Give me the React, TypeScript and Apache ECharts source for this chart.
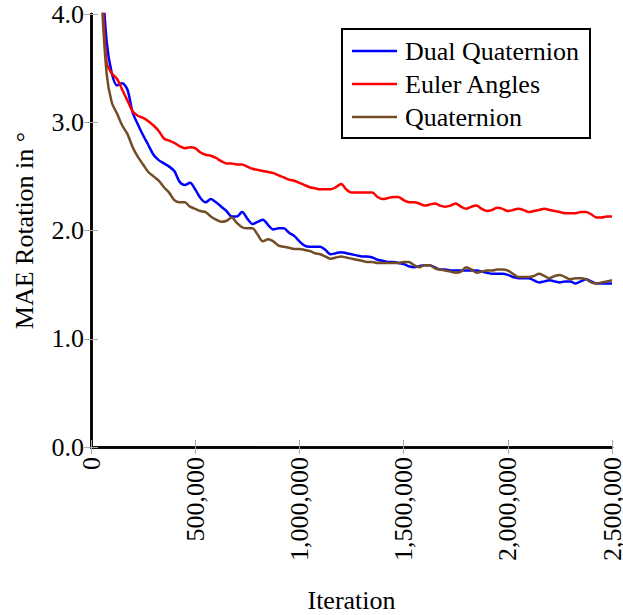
import React, { useEffect, useRef } from "react";
import * as echarts from "echarts";

const iterationStep = 25000;
const iterations: number[] = Array.from({ length: 100 }, (_, i) => (i + 1) * iterationStep);

const seriesNames = ["Dual Quaternion", "Euler Angles", "Quaternion"];

const dualQuaternion = [
  6.0, 4.5, 3.75, 3.45, 3.34, 3.36, 3.3, 3.09, 2.98, 2.88,
  2.79, 2.7, 2.65, 2.62, 2.59, 2.55, 2.45, 2.42, 2.44, 2.38,
  2.3, 2.26, 2.29, 2.26, 2.22, 2.18, 2.13, 2.13, 2.17, 2.11,
  2.06, 2.08, 2.1, 2.05, 2.01, 2.02, 2.02, 1.98, 1.95, 1.9,
  1.86, 1.85, 1.85, 1.85, 1.82, 1.78, 1.79, 1.8, 1.79, 1.78,
  1.77, 1.76, 1.76, 1.75, 1.73, 1.72, 1.71, 1.71, 1.7, 1.69,
  1.67, 1.66, 1.67, 1.68, 1.68, 1.66, 1.64, 1.64, 1.63, 1.63,
  1.63, 1.63, 1.63, 1.63, 1.62, 1.61, 1.6, 1.6, 1.6, 1.59,
  1.57, 1.56, 1.56, 1.56, 1.54, 1.52, 1.53, 1.54, 1.53, 1.52,
  1.53, 1.53, 1.51, 1.53, 1.55, 1.53, 1.51, 1.51, 1.51, 1.51,
];

const eulerAngles = [
  6.0, 4.4, 3.55, 3.45, 3.4, 3.3, 3.2, 3.1, 3.06, 3.04,
  3.01, 2.97, 2.92, 2.85, 2.83, 2.81, 2.78, 2.76, 2.77, 2.76,
  2.72, 2.7, 2.69, 2.67, 2.64, 2.62, 2.62, 2.61, 2.61, 2.59,
  2.57, 2.56, 2.55, 2.54, 2.53, 2.51, 2.49, 2.47, 2.46, 2.44,
  2.42, 2.4, 2.39, 2.38, 2.38, 2.38, 2.4, 2.43, 2.38, 2.35,
  2.35, 2.35, 2.35, 2.35, 2.31, 2.29, 2.3, 2.31, 2.31, 2.28,
  2.26, 2.26, 2.25, 2.23, 2.24, 2.25, 2.23, 2.22, 2.23, 2.25,
  2.22, 2.2, 2.22, 2.23, 2.2, 2.18, 2.19, 2.21, 2.2, 2.18,
  2.19, 2.2, 2.19, 2.17, 2.18, 2.19, 2.2, 2.19, 2.18, 2.17,
  2.16, 2.16, 2.16, 2.17, 2.17, 2.15, 2.12, 2.12, 2.13, 2.13,
];

const quaternion = [
  5.5, 4.2, 3.45, 3.18, 3.08, 2.97, 2.89, 2.77, 2.68, 2.61,
  2.54, 2.5, 2.46, 2.4, 2.35, 2.28, 2.26, 2.26, 2.22, 2.2,
  2.18, 2.17, 2.13, 2.1, 2.08, 2.09, 2.12, 2.07, 2.03, 2.02,
  2.02, 1.96, 1.9, 1.92, 1.9, 1.86, 1.85, 1.84, 1.83, 1.83,
  1.82, 1.81, 1.79, 1.78, 1.76, 1.74, 1.75, 1.76, 1.75, 1.74,
  1.73, 1.72, 1.71, 1.71, 1.7, 1.7, 1.7, 1.7, 1.7, 1.71,
  1.71, 1.68, 1.66, 1.68, 1.68, 1.65, 1.64, 1.63, 1.62, 1.61,
  1.62, 1.66, 1.64, 1.61, 1.62, 1.63, 1.63, 1.64, 1.64, 1.63,
  1.6, 1.57, 1.57, 1.57, 1.58, 1.6, 1.58, 1.56, 1.58, 1.59,
  1.57, 1.55, 1.56, 1.56, 1.55, 1.52, 1.51, 1.52, 1.53, 1.54,
];

const seriesValues = [dualQuaternion, eulerAngles, quaternion];
const seriesColors = ["#0000ff", "#ff0000", "#734d26"];

const FONT = "'Liberation Serif', 'Times New Roman', serif";
const FS = 26;

export default function App() {
  const ref = useRef<HTMLDivElement>(null);
  useEffect(() => {
    if (!ref.current) return;
    const chart = echarts.init(ref.current, null, { renderer: "svg" });
    const tickStyle = { show: true, inside: true, length: 7, lineStyle: { color: "#aaaaaa", width: 1 } };
    const axisLine = { show: true, lineStyle: { color: "#000", width: 2.5 } };
    chart.setOption({
      animation: false,
      backgroundColor: "#fff",
      textStyle: { fontFamily: FONT },
      grid: {
        left: 91,
        right: 11,
        top: 14,
        bottom: 168,
        containLabel: false,
        outerBoundsMode: "none",
      },
      legend: {
        data: seriesNames.map((name) => ({ name, icon: "rect" })),
        orient: "vertical",
        left: 342,
        top: 29,
        padding: [9, 11, 8, 10],
        itemWidth: 45,
        itemHeight: 2.5,
        itemGap: 7,
        borderColor: "#000",
        borderWidth: 2,
        backgroundColor: "#fff",
        textStyle: { fontFamily: FONT, fontSize: FS, color: "#000", lineHeight: 26, padding: [0, 0, 0, 3] },
      },
      xAxis: [
        {
          type: "value",
          min: 0,
          max: 2500000,
          interval: 500000,
          position: "bottom",
          name: "Iteration",
          nameLocation: "middle",
          nameGap: 140,
          nameTextStyle: { fontFamily: FONT, fontSize: FS, color: "#000", verticalAlign: "top" },
          axisLine,
          axisTick: tickStyle,
          splitLine: { show: false },
          axisLabel: {
            rotate: 90,
            margin: 10,
            fontFamily: FONT,
            fontSize: FS,
            lineHeight: 20,
            color: "#000",
            formatter: (v: number) => v.toLocaleString("en-US"),
          },
        },
        {
          type: "value",
          min: 0,
          max: 2500000,
          interval: 500000,
          position: "top",
          axisLine,
          axisTick: tickStyle,
          splitLine: { show: false },
          axisLabel: { show: false },
        },
      ],
      yAxis: [
        {
          type: "value",
          min: 0,
          max: 4,
          interval: 1,
          position: "left",
          name: "MAE Rotation in °",
          nameLocation: "middle",
          nameGap: 54,
          nameTextStyle: { fontFamily: FONT, fontSize: FS, color: "#000" },
          axisLine,
          axisTick: tickStyle,
          splitLine: { show: false },
          axisLabel: {
            margin: 7,
            fontFamily: FONT,
            fontSize: FS,
            color: "#000",
            formatter: (v: number) => v.toFixed(1),
          },
        },
        {
          type: "value",
          min: 0,
          max: 4,
          interval: 1,
          position: "right",
          axisLine,
          axisTick: tickStyle,
          splitLine: { show: false },
          axisLabel: { show: false },
        },
      ],
      series: seriesNames.map((name, k) => ({
        name,
        type: "line",
        xAxisIndex: 0,
        yAxisIndex: 0,
        showSymbol: false,
        symbol: "none",
        clip: true,
        smooth: 0.3,
        color: seriesColors[k],
        itemStyle: { color: seriesColors[k] },
        lineStyle: { color: seriesColors[k], width: 2.5 },
        data: iterations.map((it, i) => [it, seriesValues[k][i]]),
      })),
    });
    return () => chart.dispose();
  }, []);
  return (
    <div
      ref={ref}
      style={{ position: "fixed", left: 0, top: 0, width: 623, height: 615, background: "#fff" }}
    />
  );
}
